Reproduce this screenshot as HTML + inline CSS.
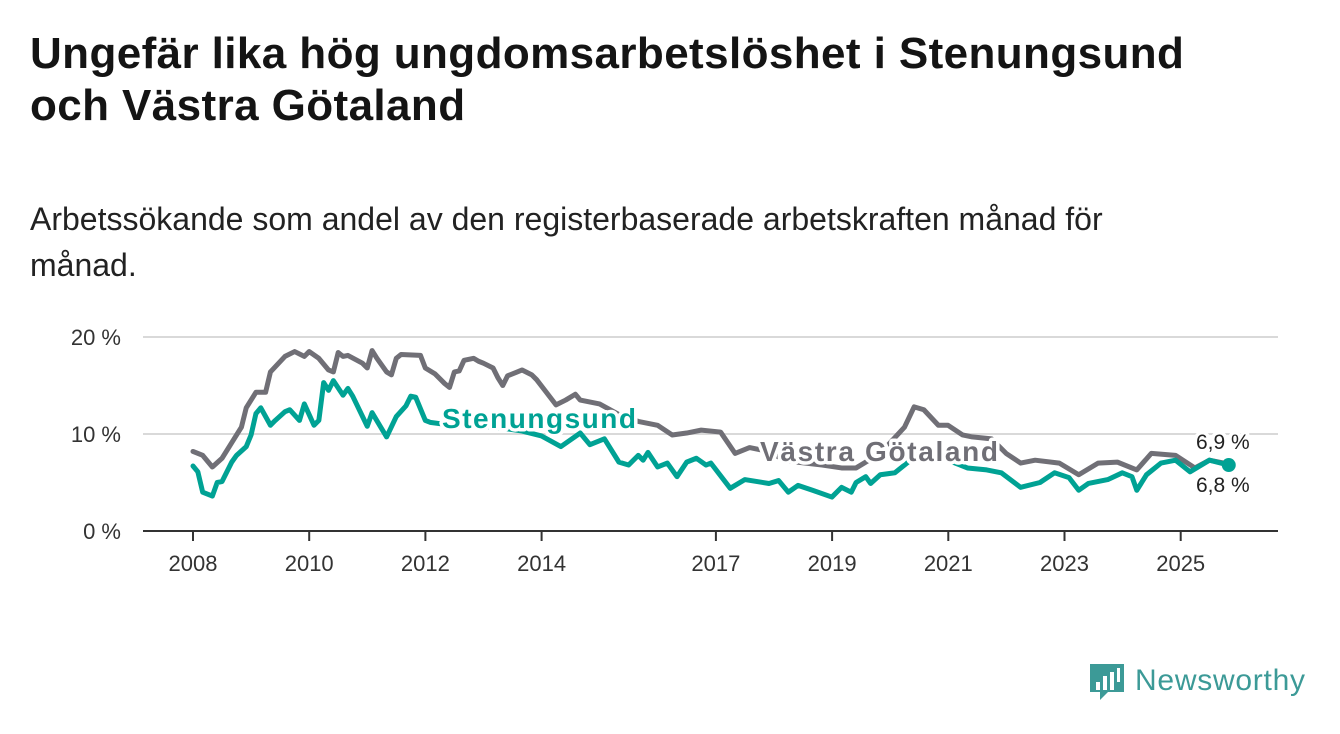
<!DOCTYPE html>
<html><head><meta charset="utf-8">
<style>
body{margin:0;width:1340px;height:734px;background:#fff;font-family:"Liberation Sans",sans-serif;overflow:hidden;position:relative}
h1{position:absolute;left:30px;top:28px;margin:0;font-size:44px;line-height:52px;font-weight:bold;color:#141414;letter-spacing:0.4px;white-space:nowrap}
.sub{position:absolute;left:30px;top:196px;margin:0;font-size:32px;line-height:46px;color:#222;width:1160px}
.logo{position:absolute;left:1088px;top:660px}
</style></head><body>
<h1>Ungefär lika hög ungdomsarbetslöshet i Stenungsund<br>och Västra Götaland</h1>
<p class="sub">Arbetssökande som andel av den registerbaserade arbetskraften månad för månad.</p>
<svg id="chart" width="1340" height="734" style="position:absolute;left:0;top:0" font-family="Liberation Sans, sans-serif"></svg>
<div class="logo">
<svg width="230" height="46">
<path d="M2 4 h34 v28 h-16 l-8 8 v-8 h-10 z" fill="#3c9a97"/>
<rect x="8" y="22" width="4" height="8" fill="#fff"/><rect x="15" y="16" width="4" height="14" fill="#fff"/><rect x="22" y="12" width="4" height="18" fill="#fff"/><rect x="29" y="8" width="3" height="14" fill="#fff"/>
<text x="47" y="30" font-size="30" fill="#3c9a97" textLength="170" font-family="Liberation Sans, sans-serif">Newsworthy</text>
</svg></div>
<script>
const vgMonths=[0,2,4,6,8,10,11,13,15,16,19,21,23,24,26,28,29,30,31,32,35,36,37,38,40,41,42,43,47,48,50,52,53,54,55,56,58,59,60,62,63,64,65,67,68,70,71,73,75,77,79,80,84,88,92,96,99,102,105,109,112,115,118,123,130,134,137,142,147,149,151,154,156,159,161,165,168,171,174,179,183,187,191,195,198,203,207,210,214];
const vgValues=[8.2,7.8,6.6,7.5,9.1,10.7,12.7,14.3,14.3,16.4,18.0,18.5,18.0,18.5,17.8,16.6,16.4,18.4,18.0,18.1,17.3,16.8,18.6,17.8,16.4,16.1,17.8,18.2,18.1,16.8,16.2,15.2,14.8,16.4,16.5,17.6,17.8,17.5,17.3,16.8,15.8,15.0,16.0,16.4,16.6,16.1,15.6,14.3,13.0,13.5,14.1,13.5,13.1,12.0,11.3,10.9,9.9,10.1,10.4,10.2,8.0,8.6,8.3,7.2,6.8,6.5,6.5,8.0,10.7,12.8,12.5,10.9,10.9,9.9,9.7,9.5,8.0,7.0,7.3,7.0,5.8,7.0,7.1,6.3,8.0,7.8,6.5,7.3,6.9];
const stMonths=[0,1,2,4,5,6,8,9,11,12,13,14,16,17,19,20,22,23,25,26,27,28,29,31,32,33,36,37,40,42,44,45,46,48,49,52,56,60,64,68,72,76,80,82,85,88,90,92,93,94,96,98,100,102,104,106,107,111,114,119,121,123,125,128,132,134,136,137,139,140,142,145,147,150,155,160,164,167,171,175,178,181,183,185,189,192,194,195,197,200,203,206,210,214];
const stValues=[6.7,6.1,4.0,3.6,5.0,5.1,7.1,7.8,8.7,9.9,12.1,12.7,10.9,11.4,12.3,12.5,11.4,13.1,10.9,11.4,15.3,14.5,15.5,14.0,14.7,13.9,10.8,12.2,9.7,11.8,12.9,13.9,13.8,11.4,11.2,11.0,10.9,10.8,10.6,10.3,9.8,8.7,10.1,8.9,9.5,7.1,6.8,7.8,7.3,8.1,6.6,7.0,5.6,7.1,7.5,6.8,7.0,4.4,5.3,4.9,5.2,4.0,4.7,4.2,3.5,4.5,4.0,5.0,5.6,4.9,5.8,6.0,6.8,8.0,7.5,6.5,6.3,6.0,4.5,5.0,6.0,5.5,4.2,4.9,5.3,6.0,5.6,4.2,5.8,7.0,7.3,6.1,7.3,6.8];
const yTicks=[0,10,20];
const yTickLabels=["0 %","10 %","20 %"];
const xTickYears=[2008,2010,2012,2014,2017,2019,2021,2023,2025];
const NS="http://www.w3.org/2000/svg";
const svg=document.getElementById('chart');
const x=m=>193+m*4.84;
const xYear=yr=>193+(yr-2008)*58.1;
const y=v=>531-v*9.7;
function mk(tag,attrs){const e=document.createElementNS(NS,tag);for(const k in attrs)e.setAttribute(k,attrs[k]);svg.appendChild(e);return e;}
yTicks.forEach((t,i)=>{
  if(t>0){const g=mk('line',{x1:143,x2:1278,y1:y(t),y2:y(t),stroke:'#d9d9d9','stroke-width':2});
  
  }
  const tx=mk('text',{x:121,y:y(t)+8,'text-anchor':'end','font-size':22,fill:'#333'});
  tx.textContent=yTickLabels[i];
  
  
});
const ax=mk('line',{x1:143,x2:1278,y1:531,y2:531,stroke:'#333','stroke-width':2});


xTickYears.forEach(yr=>{
  const t=mk('line',{x1:xYear(yr),x2:xYear(yr),y1:531,y2:541,stroke:'#333','stroke-width':2});
  
  
  const l=mk('text',{x:xYear(yr),y:571,'text-anchor':'middle','font-size':22,fill:'#333'});
  l.textContent=yr;
  
  
});
function line(ms,vs,color,name){
  const p=mk('polyline',{points:ms.map((m,i)=>x(m)+','+y(vs[i])).join(' '),fill:'none',stroke:color,'stroke-width':5,'stroke-linejoin':'round','stroke-linecap':'round'});
  
  
}
line(vgMonths,vgValues,'#706f76','series-vastra-gotaland');
line(stMonths,stValues,'#00a294','series-stenungsund');
const dot=mk('circle',{cx:x(stMonths[stMonths.length-1]),cy:y(stValues[stValues.length-1]),r:7,fill:'#00a294'});


function lab(txt,xx,yy,col,size,weight,name,len){
  const t=mk('text',{x:xx,y:yy,'font-size':size,'font-weight':weight,fill:col,stroke:'#fff','stroke-width':7,'paint-order':'stroke','stroke-linejoin':'round'});
  if(len)t.setAttribute('textLength',len);
  t.textContent=txt;
  
  
}
lab('Stenungsund',442,428,'#00a294',28,'bold','label-stenungsund',194);
lab('Västra Götaland',760,461,'#706f76',28,'bold','label-vastra-gotaland',238);
lab('6,9 %',1196,449,'#222',21,'normal','end-value-vastra-gotaland');
lab('6,8 %',1196,492,'#222',21,'normal','end-value-stenungsund');
</script>
</body></html>
